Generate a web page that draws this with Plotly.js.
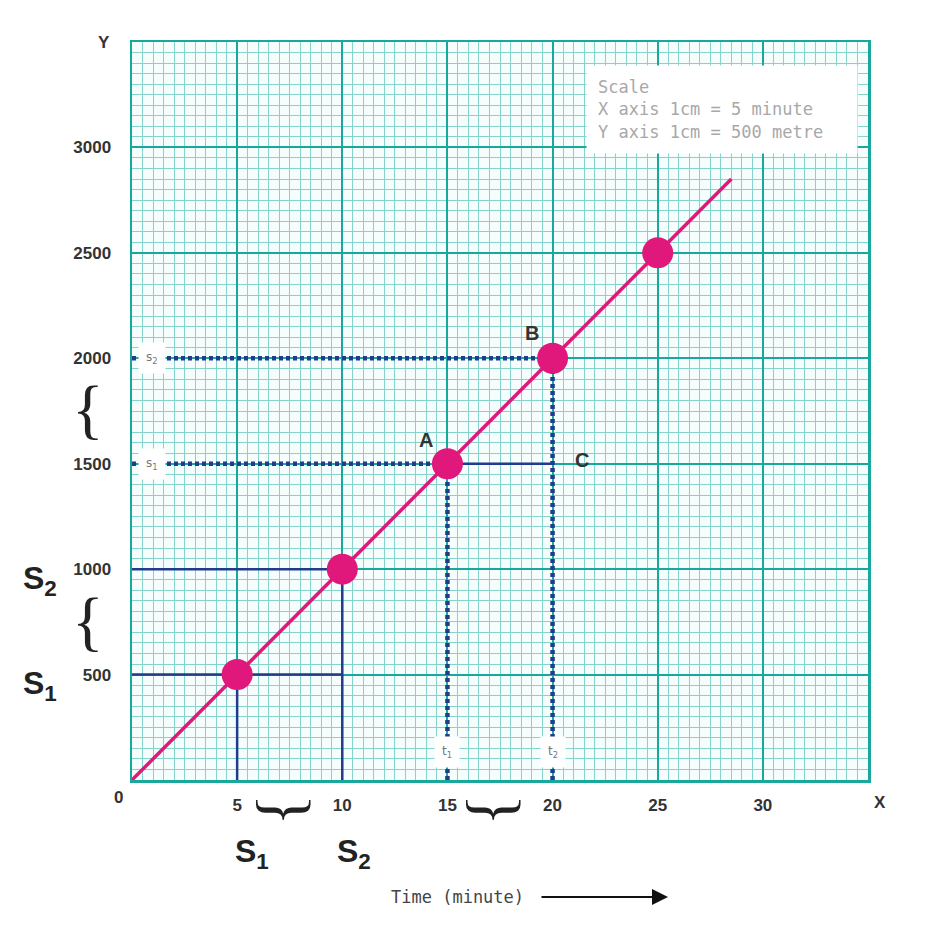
<!DOCTYPE html>
<html>
<head>
<meta charset="utf-8">
<script src="https://cdn.plot.ly/plotly-3.0.1.min.js"></script>
<style>html,body{margin:0;padding:0;background:#fff;}#chart{width:944px;height:942px;}</style>
</head>
<body>
<div id="chart"></div>
<script>
// ---- data ----
var timeMin = [5, 10, 15, 20, 25];
var distanceM = [500, 1000, 1500, 2000, 2500];
var lineX = [0, 28.5];
var lineY = [0, 2850];
var xTicks = [5, 10, 15, 20, 25, 30];
var yTicks = [500, 1000, 1500, 2000, 2500, 3000];
var pointLabels = ['A', 'B', 'C'];
var pointLabelX = [14.0, 19.0, 21.4];
var pointLabelY = [1614, 2122, 1520];
var scaleLines = ['Scale', 'X axis 1cm = 5 minute', 'Y axis 1cm = 500 metre'];

var teal = '#19a89b', minorTeal = '#86d3cb', navy = '#213c8c', pink = '#e0187c';

// guide lines built from the data points
var sA = distanceM[2], sB = distanceM[3], tA = timeMin[2], tB = timeMin[3];
var traces = [];
function seg(x, y, dash, w) {
  traces.push({x: x, y: y, mode: 'lines', hoverinfo: 'skip', showlegend: false,
    line: {color: navy, width: w, dash: dash}});
}
seg([0, timeMin[1]], [distanceM[0], distanceM[0]], 'solid', 2.5);
seg([0, timeMin[1]], [distanceM[1], distanceM[1]], 'solid', 2.5);
seg([timeMin[0], timeMin[0]], [0, distanceM[0]], 'solid', 2.5);
seg([timeMin[1], timeMin[1]], [0, distanceM[1]], 'solid', 2.5);
seg([tA, tB], [sA, sA], 'solid', 2.5);
seg([0, tA], [sA, sA], '4px,3px', 4.5);
seg([0, tB], [sB, sB], '4px,3px', 4.5);
seg([tA, tA], [0, sA], '4px,3px', 4.5);
seg([tB, tB], [0, sB], '4px,3px', 4.5);

traces.push({x: lineX, y: lineY, mode: 'lines', hoverinfo: 'skip', showlegend: false,
  line: {color: pink, width: 3.5}});
traces.push({x: timeMin, y: distanceM, mode: 'markers', hoverinfo: 'skip', showlegend: false,
  marker: {color: pink, size: 31}});

function tf() { return {family: 'Liberation Sans, Arial, sans-serif', size: 17, color: '#333'}; }
function px(xp, yp) { return {x: (xp - 132) / 736, y: (780 - yp) / 738}; }

var ann = [];
for (var i = 0; i < pointLabels.length; i++) {
  ann.push({x: pointLabelX[i], y: pointLabelY[i], xref: 'x', yref: 'y', text: '<b>' + pointLabels[i] + '</b>',
    showarrow: false, xanchor: 'center', yanchor: 'middle',
    font: {family: 'Liberation Sans, Arial, sans-serif', size: 20, color: '#333'}});
}
function blob(x, y, t) {
  ann.push({x: x, y: y, xref: 'x', yref: 'y', text: t, showarrow: false, bgcolor: '#ffffff',
    xanchor: 'center', yanchor: 'middle', borderpad: 7,
    font: {family: 'DejaVu Sans, sans-serif', size: 12, color: '#777'}});
}
blob(0.95, sB, 's<sub>2</sub>');
blob(0.95, sA, 's<sub>1</sub>');
blob(tA, 135, 't<sub>1</sub>');
blob(tB, 135, 't<sub>2</sub>');
// scale box
ann.push({x: (585 - 132) / 21, y: (780 - 65) / 738 * 3500, xref: 'x', yref: 'y', xanchor: 'left', yanchor: 'top', align: 'left',
  valign: 'middle', text: scaleLines.join('<br>'), showarrow: false, bgcolor: '#ffffff', borderpad: 11,
  width: 248, height: 65,
  font: {family: 'DejaVu Sans Mono, monospace', size: 17, color: '#a8a8a8'}});
function pann(xp, yp, t, font, extra) {
  var p = px(xp, yp);
  var a = {x: p.x, y: p.y, xref: 'paper', yref: 'paper', text: t, showarrow: false,
    xanchor: 'center', yanchor: 'middle', font: font};
  if (extra) for (var k in extra) a[k] = extra[k];
  ann.push(a);
}
pann(104, 42, '<b>Y</b>', tf());
pann(880, 802, '<b>X</b>', tf());
pann(118, 797, '<b>0</b>', tf());
function bigF() { return {family: 'Liberation Sans, Arial, sans-serif', size: 32, color: '#222'}; }
pann(40, 580, '<b>S<sub>2</sub></b>', bigF());
pann(40, 685, '<b>S<sub>1</sub></b>', bigF());
pann(252, 853, '<b>S<sub>1</sub></b>', bigF());
pann(354, 853, '<b>S<sub>2</sub></b>', bigF());
function braceF() { return {family: 'Liberation Serif, Times New Roman, serif', size: 66, color: '#222'}; }
pann(88, 408, '{', braceF());
pann(88, 620, '{', braceF());
pann(287, 810, '}', braceF(), {textangle: 90});
pann(497, 810, '}', braceF(), {textangle: 90});
pann(457, 897, 'Time (minute)', {family: 'DejaVu Sans Mono, monospace', size: 17, color: '#444'});
var ap = px(668, 897);
ann.push({x: ap.x, y: ap.y, xref: 'paper', yref: 'paper', text: '', showarrow: true, ax: -128, ay: 0,
  arrowhead: 2, arrowsize: 1.6, arrowwidth: 2, arrowcolor: '#111'});

var layout = {
  width: 944, height: 942,
  margin: {l: 132, r: 76, t: 42, b: 162},
  paper_bgcolor: '#ffffff', plot_bgcolor: '#f6fdfd',
  showlegend: false,
  xaxis: {range: [0, 35], tickmode: 'array', tickvals: xTicks, ticktext: xTicks.map(function (v) { return '<b>' + v + '</b>'; }),
    showgrid: true, gridcolor: teal, gridwidth: 2, zeroline: false,
    showline: true, mirror: true, linecolor: teal, linewidth: 2.5, ticks: '',
    ticklabelstandoff: 8, tickfont: tf(),
    minor: {dtick: 0.5, tick0: 0, showgrid: true, gridcolor: minorTeal, gridwidth: 1}},
  yaxis: {range: [0, 3500], tickmode: 'array', tickvals: yTicks, ticktext: yTicks.map(function (v) { return '<b>' + v + '</b>'; }),
    showgrid: true, gridcolor: teal, gridwidth: 2, zeroline: false,
    showline: true, mirror: true, linecolor: teal, linewidth: 2.5, ticks: '',
    ticklabelstandoff: 15, tickfont: tf(),
    minor: {dtick: 50, tick0: 0, showgrid: true, gridcolor: minorTeal, gridwidth: 1}},
  annotations: ann
};
Plotly.newPlot('chart', traces, layout, {displayModeBar: false, staticPlot: true});
</script>
</body>
</html>
